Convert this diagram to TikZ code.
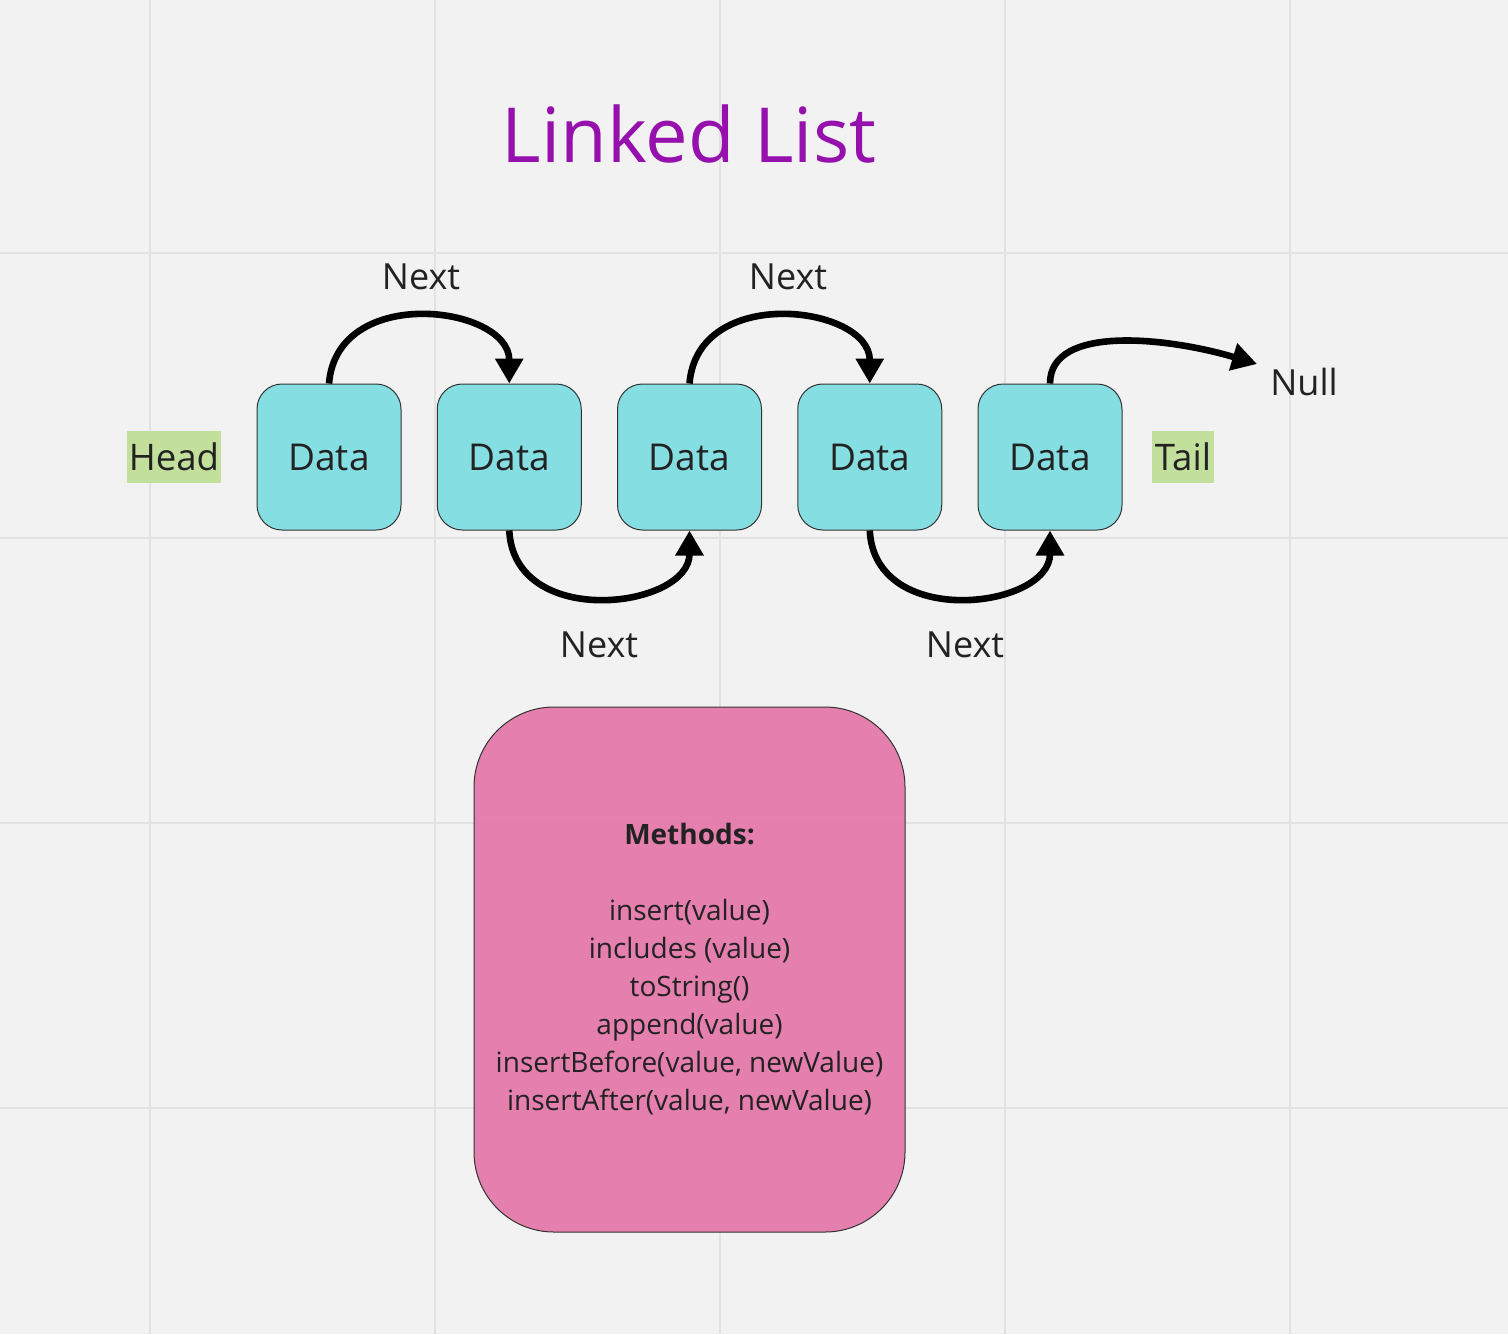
\documentclass[tikz,border=0pt]{standalone}
\usepackage{fontspec}
\setmainfont{Open Sans}
\usetikzlibrary{arrows.meta,positioning}
\definecolor{boardbg}{HTML}{F2F2F2}
\definecolor{gridline}{HTML}{E2E2E2}
\definecolor{datacyan}{HTML}{80DFE2}
\definecolor{tagsgreen}{HTML}{C2E09C}
\definecolor{methpink}{HTML}{E579AA}
\definecolor{titlepurple}{HTML}{9510AC}
\definecolor{inkgray}{HTML}{222222}

\begin{document}
\begin{tikzpicture}[x=0.5pt,y=-0.5pt,
 every node/.style={text=inkgray},
 databox/.style={rectangle,rounded corners=12.5pt,draw=black!80,line width=0.5pt,fill=datacyan,fill opacity=0.95,text opacity=1,minimum width=72pt,minimum height=73pt,inner sep=0pt,font=\fontsize{18.5}{22}\selectfont},
 tagbox/.style={rectangle,fill=tagsgreen,minimum height=26pt,inner sep=0pt,font=\fontsize{18.3}{22}\selectfont},
 label/.style={anchor=base,font=\fontsize{18}{22}\selectfont},
 link/.style={line width=3.3pt,-{Triangle[length=12.5pt,width=13.5pt]}},
]
    \useasboundingbox (0,0) rectangle (1508,1334);
    \fill[boardbg] (0,0) rectangle (1508,1334);
    \foreach \gx in {150,435,720,1005,1290} \draw[gridline,line width=1pt] (\gx,0) -- (\gx,1334);
    \foreach \gy in {253,538,823,1108} \draw[gridline,line width=1pt] (0,\gy) -- (1508,\gy);

    \node[anchor=base,text=titlepurple,font=\fontsize{38}{46}\selectfont] (title) at (689,162) {Linked List};

    \foreach \i in {1,...,5}
      \node[databox] (d\i) at ({329+180.25*(\i-1)},457) {Data};

    \node[tagbox,minimum width=47pt] (head) at (174,457) {Head};
    \node[tagbox,minimum width=31pt] (tail) at (1183,457) {Tail};

    \node[label] (nexta) at (421,289) {Next};
    \node[label] (nextb) at (788,289) {Next};
    \node[label] (nextc) at (599,657) {Next};
    \node[label] (nextd) at (965,657) {Next};
    \node[label] (null) at (1304,395) {Null};
    \coordinate (nulltip) at (1257,364);

    \draw[link] (d1.north) .. controls +(8,-100) and +(0,-78) .. (d2.north);
    \draw[link] (d3.north) .. controls +(8,-100) and +(0,-78) .. (d4.north);
    \draw[link] (d2.south) .. controls +(5,100) and +(0,78) .. (d3.south);
    \draw[link] (d4.south) .. controls +(5,100) and +(0,78) .. (d5.south);
    \draw[link] (d5.north) .. controls +(0,-60) and +(-87,-26) .. (nulltip);

    \node[rectangle,rounded corners=40pt,draw=black!80,line width=0.5pt,fill=methpink,fill opacity=0.95,text opacity=1,minimum width=215.5pt,minimum height=262.5pt,align=center,font=\fontsize{14}{19}\selectfont] (methods) at (689.5,969.5)
      {\textbf{Methods:}\\[19pt]insert(value)\\includes (value)\\toString()\\append(value)\\insertBefore(value, newValue)\\insertAfter(value, newValue)};
\end{tikzpicture}
\end{document}
